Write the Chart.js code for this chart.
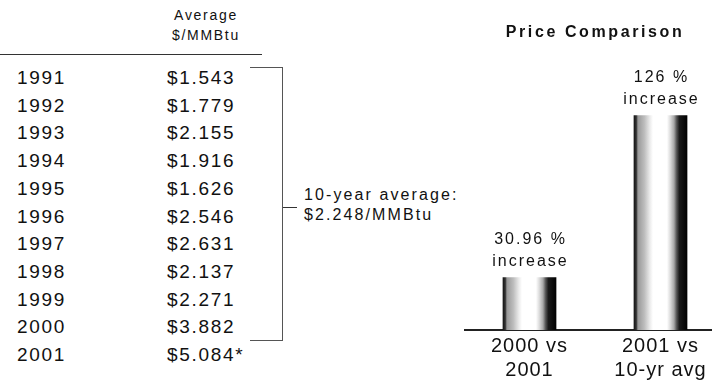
<!DOCTYPE html>
<html>
<head>
<meta charset="utf-8">
<script src="https://cdn.jsdelivr.net/npm/chart.js@4.4.1/dist/chart.umd.min.js"></script>
<style>
  html, body { margin: 0; padding: 0; background: #fff; }
  body { width: 712px; height: 382px; position: relative; overflow: hidden;
         font-family: "Liberation Sans", Arial, sans-serif; color: #111; }
  .abs { position: absolute; white-space: nowrap; }
  .head { font-size: 14px; letter-spacing: 1.7px; line-height: 18px; width: 120px; text-align: center; left: 146px; }
  .row { font-size: 19px; letter-spacing: 1.7px; line-height: 28px; }
  .avg { font-size: 16px; letter-spacing: 2.1px; line-height: 20px; left: 304px; }
  #chartBox { position: absolute; left: 464px; top: 0; }
</style>
</head>
<body>
<div class="abs head" style="top:6px">Average</div>
<div class="abs head" style="top:26px">$/MMBtu</div>
<div class="abs" style="left:0;top:54px;width:262px;height:1px;background:#333"></div>
<div id="table"></div>
<div class="abs" style="left:250px;top:67px;width:32px;height:272px;border:1px solid #555;border-left:none"></div>
<div class="abs" style="left:283px;top:207px;width:14px;height:1px;background:#333"></div>
<div class="abs avg" style="top:185px" id="avg1"></div>
<div class="abs avg" style="top:205px" id="avg2"></div>
<canvas id="chartBox" width="262" height="382"></canvas>
<script>
// table data
const years = ['1991', '1992', '1993', '1994', '1995', '1996', '1997', '1998', '1999', '2000', '2001'];
const prices = [1.543, 1.779, 2.155, 1.916, 1.626, 2.546, 2.631, 2.137, 2.271, 3.882, 5.084];
const priceNotes = ['', '', '', '', '', '', '', '', '', '', '*'];
const avgText = ['10-year average:', '$2.248/MMBtu'];

// comparison chart data
const comparisons = [['2000 vs', '2001'], ['2001 vs', '10-yr avg']];
const increases = [30.96, 126];
const increaseLabels = ['30.96 %', '126 %'];

const table = document.getElementById('table');
years.forEach((yr, i) => {
    const top = 64 + i * 27.7;
    const a = document.createElement('div');
    a.className = 'abs row';
    a.style.left = '17px';
    a.style.top = top + 'px';
    a.textContent = yr;
    const b = document.createElement('div');
    b.className = 'abs row';
    b.style.left = '167px';
    b.style.top = top + 'px';
    b.textContent = '$' + prices[i].toFixed(3) + priceNotes[i];
    table.appendChild(a);
    table.appendChild(b);
});
document.getElementById('avg1').textContent = avgText[0];
document.getElementById('avg2').textContent = avgText[1];

const BAR_PCT = 0.41;

// cylinder-like shading across each bar
function barFill(ctx) {
    const chart = ctx.chart;
    const x = chart.scales.x;
    if (!x || ctx.dataIndex == null || !x.width) return '#999';
    const w = (x.width / comparisons.length) * BAR_PCT;
    const cx = x.getPixelForValue(ctx.dataIndex);
    const g = chart.ctx.createLinearGradient(cx - w / 2, 0, cx + w / 2, 0);
    g.addColorStop(0, '#111');
    g.addColorStop(0.05, '#333');
    g.addColorStop(0.08, '#999');
    g.addColorStop(0.2, '#bdbdbd');
    g.addColorStop(0.3, '#eaeaea');
    g.addColorStop(0.36, '#fff');
    g.addColorStop(0.62, '#fff');
    g.addColorStop(0.68, '#ddd');
    g.addColorStop(0.75, '#a8a8a8');
    g.addColorStop(0.8, '#555');
    g.addColorStop(0.85, '#1a1a1a');
    g.addColorStop(1, '#000');
    return g;
}

// labels above the bars, plus letter spacing for title / axis
const barText = {
    id: 'barText',
    beforeDraw(chart) {
        chart.ctx.letterSpacing = '2.6px';
    },
    afterDatasetsDraw(chart) {
        const ctx = chart.ctx;
        const meta = chart.getDatasetMeta(0);
        ctx.save();
        ctx.letterSpacing = '2px';
        ctx.fillStyle = '#111';
        ctx.font = '16px "Liberation Sans", Arial, sans-serif';
        ctx.textAlign = 'center';
        ctx.textBaseline = 'middle';
        meta.data.forEach((bar, i) => {
            ctx.fillText(increaseLabels[i], bar.x + 1, bar.y - 38);
            ctx.fillText('increase', bar.x + 1, bar.y - 16);
        });
        ctx.restore();
        ctx.letterSpacing = '1px';
    }
};

Chart.defaults.font.family = '"Liberation Sans", Arial, sans-serif';

new Chart(document.getElementById('chartBox'), {
    type: 'bar',
    data: {
        labels: comparisons,
        datasets: [{
            data: increases,
            backgroundColor: barFill,
            borderWidth: 0,
            barPercentage: BAR_PCT,
            categoryPercentage: 1
        }]
    },
    options: {
        responsive: false,
        animation: false,
        layout: { padding: 0 },
        plugins: {
            legend: { display: false },
            tooltip: { enabled: false },
            title: {
                display: true,
                text: 'Price Comparison',
                color: '#111',
                font: { size: 16, weight: 'bold' },
                padding: { top: 23, bottom: 32 }
            }
        },
        scales: {
            x: {
                grid: { display: false, drawTicks: false },
                border: { display: true, color: '#222', width: 2 },
                ticks: { z: 1, color: '#111', font: { size: 20 }, padding: 4, maxRotation: 0, autoSkip: false },
                afterFit: (s) => { s.height = 52; }
            },
            y: { display: false, min: 0, max: 150 }
        }
    },
    plugins: [barText]
});
</script>
</body>
</html>
